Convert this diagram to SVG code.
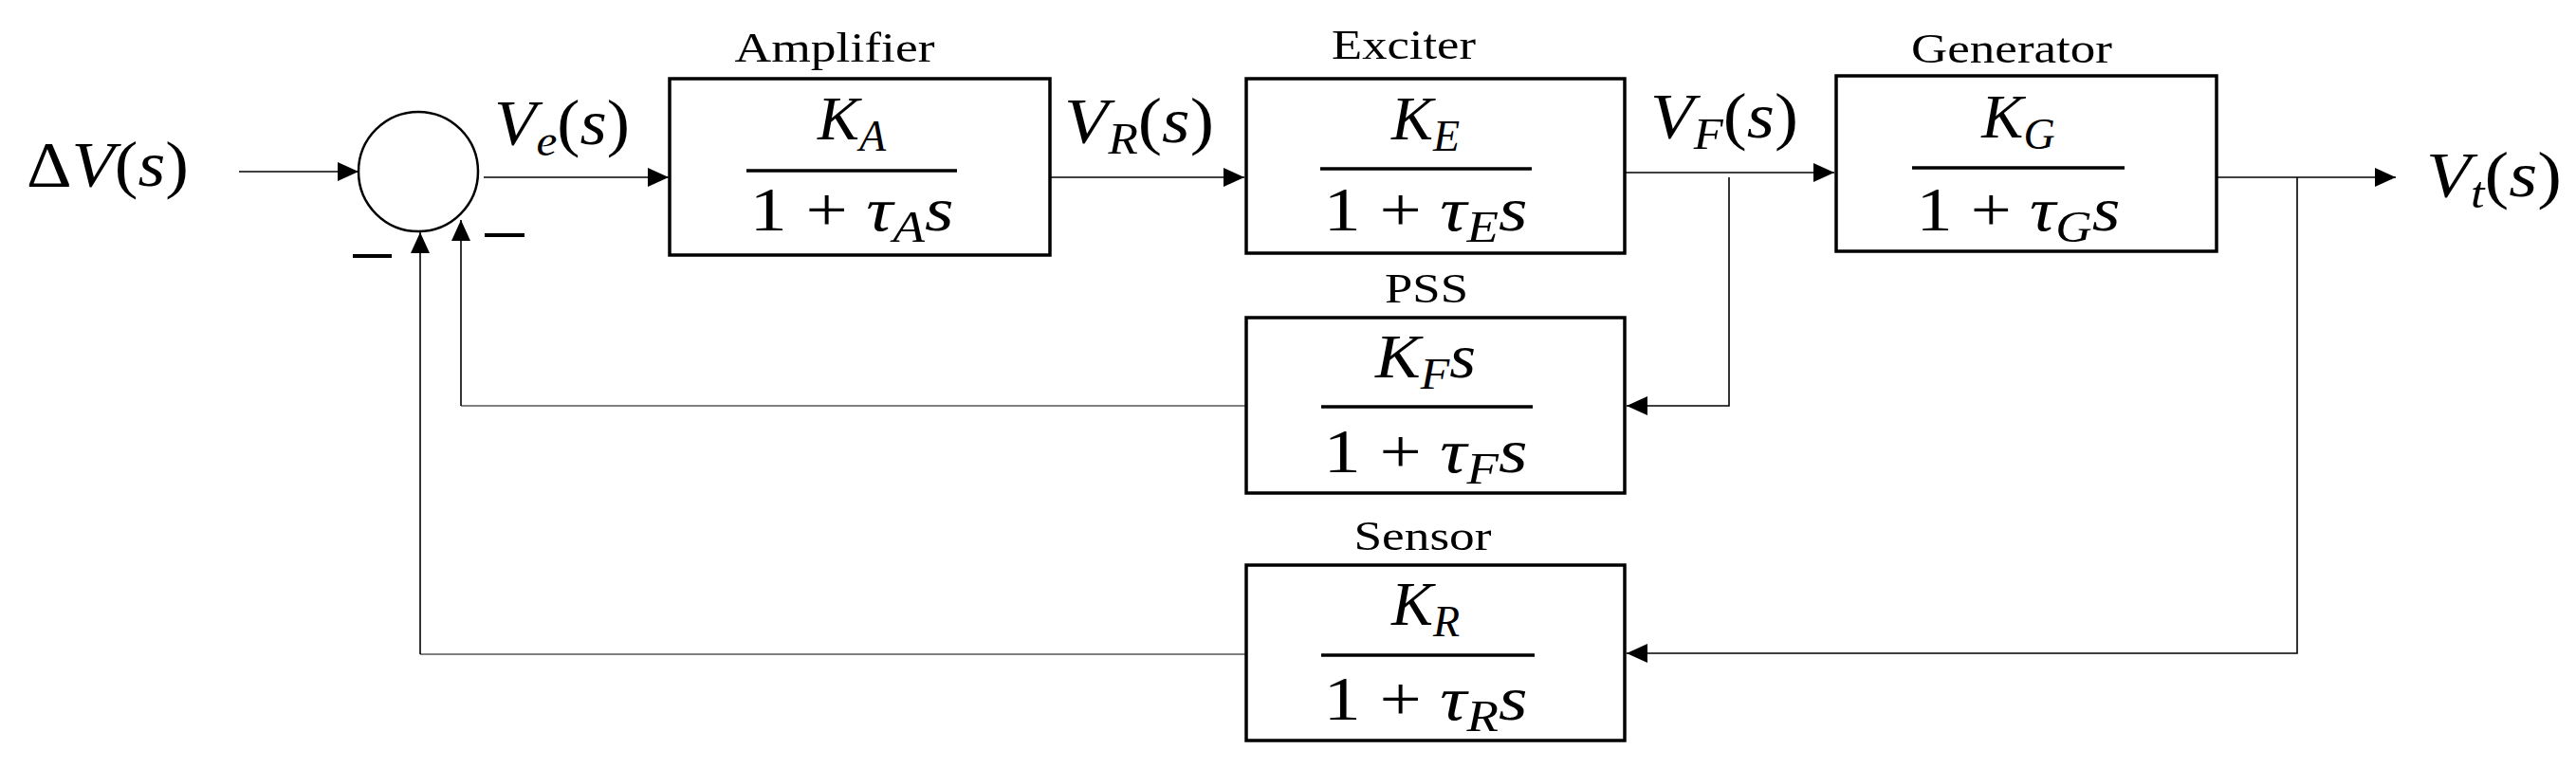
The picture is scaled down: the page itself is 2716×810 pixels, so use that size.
<svg xmlns="http://www.w3.org/2000/svg" width="2716" height="810" viewBox="0 0 2716 810">
<style>
.box{fill:#fff;stroke:#000;stroke-width:3.5}
.ln{fill:none;stroke:#000;stroke-width:1.6}
.gr{fill:none;stroke:#808080;stroke-width:2}
.frac{stroke:#000;stroke-width:3.5}
.lab{font-family:"Liberation Serif",serif;font-size:44px;fill:#000;text-anchor:middle}
.m{font-family:"Liberation Serif","DejaVu Serif",serif;font-size:68px;fill:#000}
.f{font-family:"Liberation Serif","DejaVu Serif",serif;font-size:66px;fill:#000;text-anchor:middle}
.i{font-style:italic}
.sb{font-style:italic;font-size:46px}
</style>
<defs>
<marker id="ah" markerUnits="userSpaceOnUse" markerWidth="24" markerHeight="20" refX="22" refY="10" orient="auto">
<path d="M0,0 L22,10 L0,20 Z" fill="#000"/>
</marker>
</defs>
<g id="connectors">
<line class="ln" x1="252" y1="181" x2="378" y2="181" marker-end="url(#ah)"/>
<line class="ln" x1="510" y1="187" x2="705" y2="187" marker-end="url(#ah)"/>
<line class="ln" x1="1107" y1="187" x2="1312" y2="187" marker-end="url(#ah)"/>
<line class="ln" x1="1713" y1="182" x2="1934" y2="182" marker-end="url(#ah)"/>
<polyline class="ln" points="1823,187 1823,428 1715,428" marker-end="url(#ah)"/>
<line class="ln" x1="2337" y1="187" x2="2526" y2="187" marker-end="url(#ah)"/>
<polyline class="ln" points="2422,187 2422,689 1715,689" marker-end="url(#ah)"/>
<line class="gr" x1="1314" y1="428" x2="486" y2="428"/>
<line class="ln" x1="486" y1="428" x2="486" y2="232" marker-end="url(#ah)"/>
<line class="gr" x1="1314" y1="690" x2="443" y2="690"/>
<line class="ln" x1="443" y1="690" x2="443" y2="245" marker-end="url(#ah)"/>
</g>
<g id="sum">
<circle cx="441" cy="181" r="63" fill="#fff" stroke="#000" stroke-width="2.5"/>
<line x1="372" y1="270" x2="413" y2="270" stroke="#000" stroke-width="4"/>
<line x1="511" y1="248" x2="553" y2="248" stroke="#000" stroke-width="4"/>
</g>
<g id="signals">
<text class="m" x="28" y="196" textLength="171" lengthAdjust="spacingAndGlyphs">Δ<tspan class="i">V</tspan>(<tspan class="i">s</tspan>)</text>
<text class="m" x="521" y="152" textLength="143" lengthAdjust="spacingAndGlyphs"><tspan class="i">V</tspan><tspan class="sb" dy="12">e</tspan><tspan dy="-12">(</tspan><tspan class="i">s</tspan>)</text>
<text class="m" x="1122" y="150" textLength="158" lengthAdjust="spacingAndGlyphs"><tspan class="i">V</tspan><tspan class="sb" dy="12">R</tspan><tspan dy="-12">(</tspan><tspan class="i">s</tspan>)</text>
<text class="m" x="1740" y="145" textLength="156" lengthAdjust="spacingAndGlyphs"><tspan class="i">V</tspan><tspan class="sb" dy="12">F</tspan><tspan dy="-12">(</tspan><tspan class="i">s</tspan>)</text>
<text class="m" x="2558" y="207" textLength="143" lengthAdjust="spacingAndGlyphs"><tspan class="i">V</tspan><tspan class="sb" dy="12">t</tspan><tspan dy="-12">(</tspan><tspan class="i">s</tspan>)</text>
</g>
<g id="amplifier">
<text class="lab" x="880" y="65" textLength="211" lengthAdjust="spacingAndGlyphs">Amplifier</text>
<rect class="box" x="706" y="83" width="401" height="186"/>
<text class="f" x="898" y="147"><tspan class="i">K</tspan><tspan class="sb" dy="12">A</tspan></text>
<line class="frac" x1="787" y1="180" x2="1009" y2="180"/>
<text class="f" x="898" y="243" textLength="215" lengthAdjust="spacingAndGlyphs">1 + <tspan class="i">τ</tspan><tspan class="sb" dy="12">A</tspan><tspan class="i" dy="-12">s</tspan></text>
</g>
<g id="exciter">
<text class="lab" x="1480" y="62" textLength="152" lengthAdjust="spacingAndGlyphs">Exciter</text>
<rect class="box" x="1314" y="83" width="399" height="184"/>
<text class="f" x="1503" y="147"><tspan class="i">K</tspan><tspan class="sb" dy="12">E</tspan></text>
<line class="frac" x1="1392" y1="178" x2="1615" y2="178"/>
<text class="f" x="1503" y="243" textLength="215" lengthAdjust="spacingAndGlyphs">1 + <tspan class="i">τ</tspan><tspan class="sb" dy="12">E</tspan><tspan class="i" dy="-12">s</tspan></text>
</g>
<g id="generator">
<text class="lab" x="2121" y="66" textLength="212" lengthAdjust="spacingAndGlyphs">Generator</text>
<rect class="box" x="1936" y="80" width="401" height="185"/>
<text class="f" x="2128" y="145"><tspan class="i">K</tspan><tspan class="sb" dy="12">G</tspan></text>
<line class="frac" x1="2016" y1="177" x2="2240" y2="177"/>
<text class="f" x="2128" y="243" textLength="215" lengthAdjust="spacingAndGlyphs">1 + <tspan class="i">τ</tspan><tspan class="sb" dy="12">G</tspan><tspan class="i" dy="-12">s</tspan></text>
</g>
<g id="pss">
<text class="lab" x="1504" y="319" textLength="88" lengthAdjust="spacingAndGlyphs">PSS</text>
<rect class="box" x="1314" y="335" width="399" height="185"/>
<text class="f" x="1503" y="398" textLength="106" lengthAdjust="spacingAndGlyphs"><tspan class="i">K</tspan><tspan class="sb" dy="12">F</tspan><tspan class="i" dy="-12">s</tspan></text>
<line class="frac" x1="1393" y1="429" x2="1616" y2="429"/>
<text class="f" x="1503" y="498" textLength="215" lengthAdjust="spacingAndGlyphs">1 + <tspan class="i">τ</tspan><tspan class="sb" dy="12">F</tspan><tspan class="i" dy="-12">s</tspan></text>
</g>
<g id="sensor">
<text class="lab" x="1500" y="580" textLength="145" lengthAdjust="spacingAndGlyphs">Sensor</text>
<rect class="box" x="1314" y="596" width="399" height="185"/>
<text class="f" x="1503" y="659"><tspan class="i">K</tspan><tspan class="sb" dy="12">R</tspan></text>
<line class="frac" x1="1393" y1="691" x2="1618" y2="691"/>
<text class="f" x="1503" y="759" textLength="215" lengthAdjust="spacingAndGlyphs">1 + <tspan class="i">τ</tspan><tspan class="sb" dy="12">R</tspan><tspan class="i" dy="-12">s</tspan></text>
</g>
</svg>
